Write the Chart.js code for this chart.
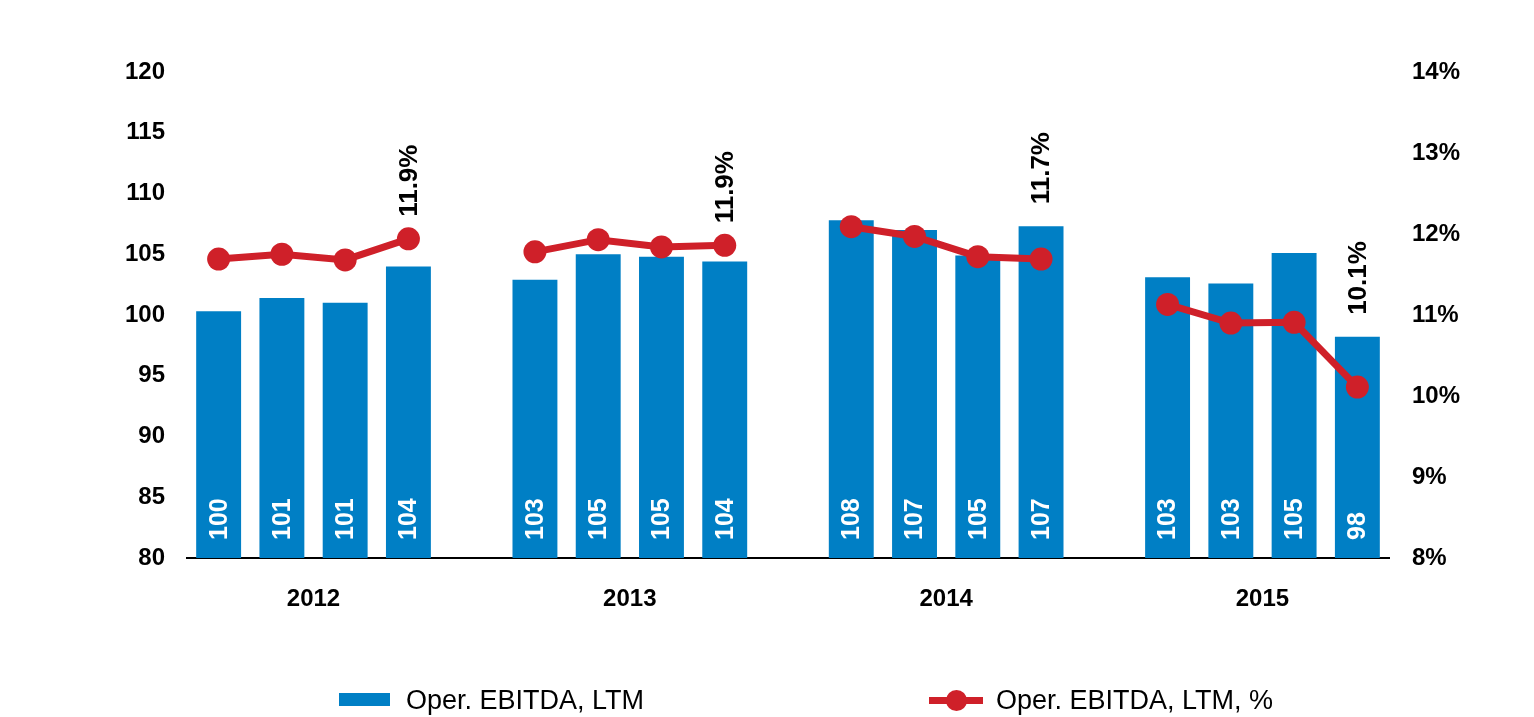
<!DOCTYPE html>
<html>
<head>
<meta charset="utf-8">
<script src="https://cdn.jsdelivr.net/npm/chart.js@4/dist/chart.umd.min.js"></script>
<style>
  html, body { margin: 0; padding: 0; background: #fff; }
  #wrap { position: relative; width: 1534px; height: 717px; font-family: "Liberation Sans", Arial, sans-serif; }
  #chart { position: absolute; left: 0; top: 0; }
  .lg-box { position: absolute; left: 339px; top: 693px; width: 51px; height: 13px; background: #007fc5; }
  .lg-line { position: absolute; left: 929px; top: 697px; width: 54px; height: 7px; background: #cf2029; }
  .lg-dot { position: absolute; left: 946px; top: 690px; width: 21px; height: 21px; border-radius: 50%; background: #cf2029; }
  .lg-text { position: absolute; top: 685px; font-size: 27px; line-height: 30px; color: #000; white-space: nowrap; }
</style>
</head>
<body>
<div id="wrap">
  <canvas id="chart" width="1534" height="717"></canvas>
  <div class="lg-box"></div>
  <div class="lg-text" style="left:406px">Oper. EBITDA, LTM</div>
  <div class="lg-line"></div>
  <div class="lg-dot"></div>
  <div class="lg-text" style="left:996px">Oper. EBITDA, LTM, %</div>
</div>
<script>
(function () {
  'use strict';

  // --- data (null = gap between years)
  const quarters = [
    'Q1 2012', 'Q2 2012', 'Q3 2012', 'Q4 2012', '',
    'Q1 2013', 'Q2 2013', 'Q3 2013', 'Q4 2013', ' ',
    'Q1 2014', 'Q2 2014', 'Q3 2014', 'Q4 2014', '  ',
    'Q1 2015', 'Q2 2015', 'Q3 2015', 'Q4 2015',
  ];
  const years = ['2012', '2013', '2014', '2015'];
  const ebitda = [
    100.3, 101.4, 101.0, 104.0, null,
    102.9, 105.0, 104.8, 104.4, null,
    107.8, 107.0, 104.9, 107.3, null,
    103.1, 102.6, 105.1, 98.2,
  ];
  const margin = [
    11.69, 11.75, 11.68, 11.94, null,
    11.78, 11.93, 11.84, 11.86, null,
    12.09, 11.97, 11.72, 11.69, null,
    11.13, 10.90, 10.91, 10.11,
  ];
  const leftTicks = { min: 80, max: 120, step: 5 };
  const rightTicks = { min: 8, max: 14, step: 1 };

  const COL = { blue: '#007fc5', red: '#cf2029', ink: '#000000' };
  const FONT = '"Liberation Sans", Arial, sans-serif';

  Chart.defaults.font.family = FONT;
  Chart.defaults.color = COL.ink;

  // rotated value labels: white inside bars, black % above last point of each year
  const valueLabels = {
    id: 'valueLabels',
    afterDatasetsDraw: function (chart) {
      const ctx = chart.ctx;
      const barMeta = chart.getDatasetMeta(1);
      const lineMeta = chart.getDatasetMeta(0);
      const base = chart.scales.y.getPixelForValue(leftTicks.min);
      ctx.save();
      ctx.textBaseline = 'middle';
      ctx.textAlign = 'left';
      barMeta.data.forEach(function (bar, i) {
        if (ebitda[i] == null) return;
        ctx.save();
        ctx.translate(bar.x, base - 18);
        ctx.rotate(-Math.PI / 2);
        ctx.fillStyle = '#ffffff';
        ctx.font = 'bold 25px ' + FONT;
        ctx.fillText(String(Math.round(ebitda[i])), 0, 1);
        ctx.restore();
      });
      lineMeta.data.forEach(function (pt, i) {
        if (margin[i] == null) return;
        const last = i === margin.length - 1 || margin[i + 1] == null;
        if (!last) return;
        const top = Math.min(pt.y, barMeta.data[i].y);
        ctx.save();
        ctx.translate(pt.x, top - 22);
        ctx.rotate(-Math.PI / 2);
        ctx.fillStyle = COL.ink;
        ctx.font = 'bold 26px ' + FONT;
        ctx.fillText(margin[i].toFixed(1) + '%', 0, 1);
        ctx.restore();
      });
      ctx.restore();
    },
  };

  new Chart(document.getElementById('chart'), {
    type: 'bar',
    data: {
      labels: quarters,
      datasets: [
        {
          type: 'line', label: 'Oper. EBITDA, LTM, %', data: margin, yAxisID: 'y1', order: 0,
          borderColor: COL.red, borderWidth: 7, tension: 0, spanGaps: false,
          pointRadius: 11.5, pointBackgroundColor: COL.red, pointBorderWidth: 0,
        },
        {
          type: 'bar', label: 'Oper. EBITDA, LTM', data: ebitda, yAxisID: 'y', order: 1,
          backgroundColor: COL.blue, categoryPercentage: 1, barPercentage: 0.71,
        },
      ],
    },
    options: {
      responsive: false, animation: false, devicePixelRatio: 1,
      events: [],
      layout: { padding: { top: 72, bottom: 99, left: 0, right: 0 } },
      plugins: { legend: { display: false }, tooltip: { enabled: false } },
      scales: {
        x: {
          grid: { display: false, drawTicks: false },
          border: { display: true, color: COL.ink, width: 2 },
          ticks: {
            autoSkip: false, maxRotation: 0, padding: 27, labelOffset: 31.6,
            font: { size: 24, weight: 'bold' },
            callback: function (v, i) { return i % 5 === 1 ? years[(i - 1) / 5] : ''; },
          },
          afterFit: function (s) { s.height = 60; },
        },
        y: {
          position: 'left', min: leftTicks.min, max: leftTicks.max,
          grid: { display: false, drawTicks: false },
          border: { display: false },
          ticks: { stepSize: leftTicks.step, padding: 22, font: { size: 24, weight: 'bold' } },
          afterFit: function (s) { s.width = 187; },
        },
        y1: {
          position: 'right', min: rightTicks.min, max: rightTicks.max,
          grid: { display: false, drawTicks: false },
          border: { display: false },
          ticks: {
            stepSize: rightTicks.step, padding: 23, font: { size: 24, weight: 'bold' },
            callback: function (v) { return v + '%'; },
          },
          afterFit: function (s) { s.width = 145; },
        },
      },
    },
    plugins: [valueLabels],
  });
})();
</script>
</body>
</html>
